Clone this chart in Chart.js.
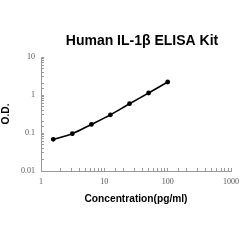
<!DOCTYPE html>
<html>
<head>
<meta charset="utf-8">
<script src="https://cdn.jsdelivr.net/npm/chart.js@4"></script>
<style>
    body { margin: 0; background: #fff; }
</style>
</head>
<body>
<canvas id="elisaChart" width="240" height="240"></canvas>
<script>
// Standard curve data
const concentrations = [1.5625, 3.125, 6.25, 12.5, 25, 50, 100];
const odValues = [0.068, 0.096, 0.168, 0.30, 0.59, 1.13, 2.2];
const xTickLabels = ['1', '10', '100', '1000'];
const yTickLabels = ['0.01', '0.1', '1', '10'];

const chartTitle = 'Human IL-1β ELISA Kit';

function isDecade(v) {
    const l = Math.log10(v);
    return Math.abs(l - Math.round(l)) < 1e-9;
}

function decadeLabel(list) {
    return function(value) {
        if (!isDecade(value)) return '';
        const match = list.find(t => Math.abs(parseFloat(t) - value) < 1e-9);
        return match || '';
    };
}

// Title drawn over the plot area (slightly right of canvas center)
const titlePlugin = {
    id: 'plotTitle',
    afterDraw(chart) {
        const ctx = chart.ctx;
        ctx.save();
        ctx.font = 'bold 14px "Liberation Sans", Arial, sans-serif';
        ctx.fillStyle = '#000';
        ctx.textAlign = 'center';
        ctx.textBaseline = 'middle';
        ctx.fillText(chartTitle, 142, 41);
        ctx.restore();
    }
};

const tickFont = { family: '"Liberation Serif", "Times New Roman", serif', size: 8 };
const axisTitleFont = { family: '"Liberation Sans", Arial, sans-serif', size: 10.2, weight: 'bold' };

new Chart(document.getElementById('elisaChart').getContext('2d'), {
    type: 'line',
    data: {
        datasets: [{
            data: concentrations.map((c, i) => ({ x: c, y: odValues[i] })),
            borderColor: '#000',
            backgroundColor: '#000',
            borderWidth: 1.6,
            pointRadius: 1.6,
            pointHoverRadius: 1.6,
            tension: 0.3,
            fill: false
        }]
    },
    plugins: [titlePlugin],
    options: {
        responsive: false,
        animation: false,
        layout: {
            padding: { top: 57, right: 9, bottom: 29, left: 0 }
        },
        plugins: {
            legend: { display: false },
            tooltip: { enabled: false }
        },
        scales: {
            x: {
                type: 'logarithmic',
                min: 1,
                max: 1000,
                afterFit: function(scale) {
                    scale.height = 40;
                    scale.paddingLeft = 0;
                    scale.paddingRight = 0;
                },
                border: { color: '#999', width: 1 },
                grid: {
                    drawOnChartArea: false,
                    drawTicks: true,
                    tickLength: -3,
                    color: '#999'
                },
                ticks: {
                    autoSkip: false,
                    maxRotation: 0,
                    padding: 9,
                    color: '#555',
                    font: tickFont,
                    callback: decadeLabel(xTickLabels)
                },
                title: {
                    display: true,
                    text: 'Concentration(pg/ml)',
                    color: '#000',
                    font: axisTitleFont,
                    padding: { top: 0, bottom: 6 }
                }
            },
            y: {
                type: 'logarithmic',
                min: 0.01,
                max: 10,
                afterFit: function(scale) {
                    scale.width = 41;
                    scale.paddingTop = 0;
                    scale.paddingBottom = 0;
                },
                border: { color: '#999', width: 1 },
                grid: {
                    drawOnChartArea: false,
                    drawTicks: true,
                    tickLength: -3,
                    color: '#999'
                },
                ticks: {
                    autoSkip: false,
                    padding: 9,
                    color: '#555',
                    font: tickFont,
                    callback: decadeLabel(yTickLabels)
                },
                title: {
                    display: true,
                    text: 'O.D.',
                    color: '#000',
                    font: axisTitleFont,
                    padding: 0
                }
            }
        }
    }
});
</script>
</body>
</html>
